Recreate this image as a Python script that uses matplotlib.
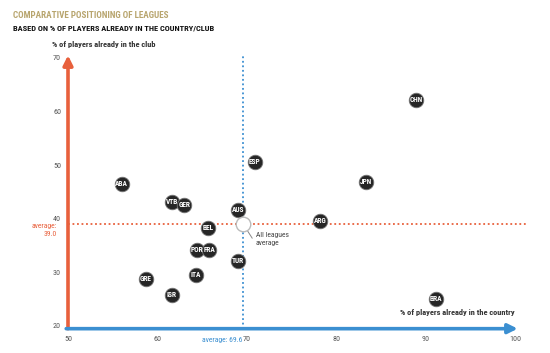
import matplotlib
matplotlib.use("Agg")
import matplotlib.pyplot as plt
import numpy as np

plt.rcParams['font.family'] = ['Liberation Sans Narrow', 'Roboto Condensed',
                               'Liberation Sans', 'DejaVu Sans']

leagues = ["CHN", "ESP", "JPN", "ABA", "VTB", "GER", "AUS", "BEL", "ARG",
           "POR", "FRA", "TUR", "ITA", "GRE", "ISR", "BRA"]
pct_country = [88.9, 70.9, 83.3, 56.0, 61.6, 63.0, 69.0, 65.7, 78.2,
               64.4, 65.8, 69.0, 64.3, 58.7, 61.6, 91.2]
pct_club = [62.2, 50.6, 46.9, 46.4, 43.2, 42.6, 41.7, 38.2, 39.6,
            34.1, 34.1, 32.2, 29.6, 28.8, 25.7, 25.1]
avg_country = 69.6
avg_club = 39.0

red = "#e8603c"
blue = "#3b8fd1"
gold = "#b8a56e"

fig = plt.figure(figsize=(5.5, 3.53), dpi=100)
ax = fig.add_axes([68/550, 27/353, 447/550, 268/353])
ax.set_xlim(50, 100)
ax.set_ylim(20, 70)
for s in ax.spines.values():
    s.set_visible(False)

ax.set_xticks(np.arange(50, 101, 10))
ax.set_yticks(np.arange(20, 71, 10))
ax.tick_params(length=0, labelsize=5.8, colors="#555555")
ax.tick_params(axis="x", pad=7)
ax.tick_params(axis="y", pad=5)

# axis arrows
ax.annotate("", xy=(50, 70.5), xytext=(50, 19.5),
            arrowprops=dict(arrowstyle="-|>", color=red, lw=2.6,
                            mutation_scale=14, shrinkA=0, shrinkB=0),
            annotation_clip=False)
ax.annotate("", xy=(100.3, 19.5), xytext=(49.8, 19.5),
            arrowprops=dict(arrowstyle="-|>", color=blue, lw=2.6,
                            mutation_scale=14, shrinkA=0, shrinkB=0),
            annotation_clip=False)

# averages
ax.plot([50, 101.5], [avg_club, avg_club], color=red, lw=1.3,
        linestyle=(0, (1, 1.5)), clip_on=False, zorder=1)
ax.plot([avg_country, avg_country], [19.5, 70.3], color=blue, lw=1.3,
        linestyle=(0, (1, 1.5)), clip_on=False, zorder=1)

ax.scatter(pct_country, pct_club, s=110, color="#262626",
           edgecolor="#777777", linewidth=0.6, zorder=3)
for name, x, y in zip(leagues, pct_country, pct_club):
    ax.text(x, y, name, color="white", fontsize=5.3, ha="center",
            va="center", zorder=4, fontweight="bold")

ax.scatter([avg_country], [avg_club], s=110, color="white",
           edgecolor="#bbbbbb", linewidth=1, zorder=3)
ax.plot([avg_country + 0.5, avg_country + 1.0], [avg_club - 1.3, avg_club - 2.6],
        color="#888888", lw=0.7, zorder=2)
ax.text(avg_country + 1.4, avg_club - 1.4, "All leagues\naverage",
        fontsize=5.5, color="#444444", va="top", ha="left", linespacing=1.5)

ax.text(69.5, 18.0, "average: 69.6", color=blue, fontsize=5.5,
        ha="right", va="top", clip_on=False)
ax.text(48.8, avg_club + 0.2, "average:\n39.0", color=red, fontsize=5.5,
        ha="right", va="top", clip_on=False, linespacing=1.4)

ax.text(100, 21.9, "% of players already in the country", fontsize=6,
        fontweight="bold", color="#333333", ha="right", va="bottom")
fig.text(52/550, 1 - 44/353, "% of players already in the club", fontsize=6,
         fontweight="bold", color="#333333", ha="left", va="center")

fig.text(13/550, 1 - 15/353, "COMPARATIVE POSITIONING OF LEAGUES", fontsize=6.6,
         fontweight="bold", color=gold, ha="left", va="center")
fig.text(13/550, 1 - 28/353, "BASED ON % OF PLAYERS ALREADY IN THE COUNTRY/CLUB",
         fontsize=6, fontweight="bold", color="#111111", ha="left", va="center")

fig.savefig("out.png", dpi=100)
